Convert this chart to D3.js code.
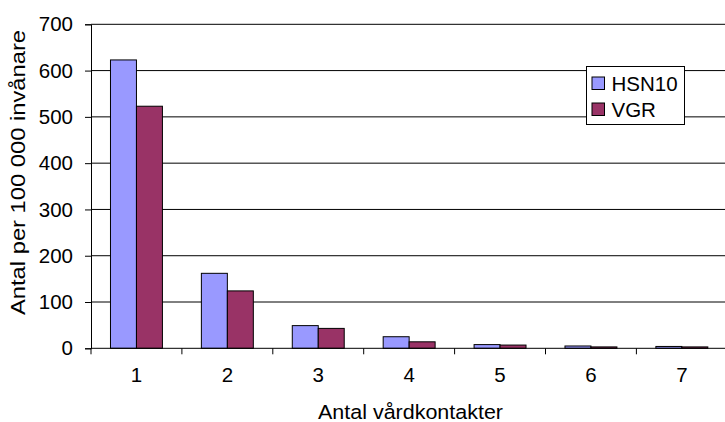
<!DOCTYPE html>
<html>
<head>
<meta charset="utf-8">
<script src="https://cdn.jsdelivr.net/npm/d3@7"></script>
<style>
  html, body { margin: 0; padding: 0; background: #fff; }
  svg { display: block; font-family: Arial, "Liberation Sans", sans-serif; }
</style>
</head>
<body>
<svg id="chart" width="725" height="422"></svg>
<script>
const categories = ["1", "2", "3", "4", "5", "6", "7"];
const seriesNames = ["HSN10", "VGR"];
const hsn10 = [623, 162, 49, 25, 8, 5, 4];
const vgr = [523, 124, 43, 14, 7, 3, 3];
const yTicks = [0, 100, 200, 300, 400, 500, 600, 700];
const colors = ["#9999FF", "#993366"];
const xTitle = "Antal vårdkontakter";
const yTitle = "Antal per 100 000 invånare";

const values = [hsn10, vgr];
const rows = categories.map((c, i) => ({cat: c, vals: seriesNames.map((s, j) => ({series: s, value: values[j][i], idx: j}))}));

const svg = d3.select("#chart");
const left = 91, step = 90.9;
const x = d3.scaleBand().domain(categories).range([left, left + step * categories.length]).padding(0);
const x1 = d3.scaleBand().domain(seriesNames).range([0, x.bandwidth()]).paddingInner(0).paddingOuter(0.75);
const y = d3.scaleLinear().domain([0, 700]).range([348.3, 24.3]);
const FS = 20.5;

// gridlines
svg.append("g").selectAll("line").data(yTicks.filter(t => t > 0)).join("line")
  .attr("x1", left).attr("x2", 725)
  .attr("y1", d => y(d)).attr("y2", d => y(d))
  .attr("stroke", "#000").attr("stroke-width", 1);

// bars
const g = svg.append("g").selectAll("g").data(rows).join("g")
  .attr("transform", d => `translate(${x(d.cat)},0)`);
g.selectAll("rect").data(d => d.vals).join("rect")
  .attr("x", d => x1(d.series))
  .attr("width", x1.bandwidth())
  .attr("y", d => y(d.value))
  .attr("height", d => y(0) - y(d.value))
  .attr("fill", d => colors[d.idx])
  .attr("stroke", "#000").attr("stroke-width", 1);

// y axis
const yAxis = d3.axisLeft(y).tickValues(yTicks).tickSize(6).tickPadding(12).tickFormat(d3.format("d"));
const ya = svg.append("g").attr("transform", `translate(${left},0)`).call(yAxis);
ya.select(".domain").attr("stroke", "#000");
ya.selectAll(".tick line").attr("stroke", "#000");
ya.selectAll("text").attr("font-size", FS).attr("fill", "#000").attr("font-family", "Arial, 'Liberation Sans', sans-serif");

// x axis
const xAxis = d3.axisBottom(x).tickSize(0).tickPadding(26);
const xa = svg.append("g").attr("transform", `translate(0,${y(0)})`).call(xAxis);
xa.select(".domain").remove();
xa.append("line").attr("x1", left).attr("x2", 725).attr("y1", 0).attr("y2", 0).attr("stroke", "#000");
xa.selectAll(".tick text").attr("font-size", FS).attr("fill", "#000").attr("dy", "0.4em").attr("font-family", "Arial, 'Liberation Sans', sans-serif");
// category boundary ticks
const boundaries = categories.map(c => x(c)).concat([x(categories[categories.length - 1]) + x.step()]);
xa.append("g").selectAll("line").data(boundaries).join("line")
  .attr("x1", d => d).attr("x2", d => d).attr("y1", 0).attr("y2", 6)
  .attr("stroke", "#000");

// axis titles
svg.append("text").attr("x", 318).attr("y", 419)
  .attr("font-size", FS).attr("textLength", 185).attr("lengthAdjust", "spacingAndGlyphs")
  .text(xTitle);
svg.append("text").attr("transform", "translate(25,315) rotate(-90)")
  .attr("font-size", FS).attr("textLength", 285).attr("lengthAdjust", "spacingAndGlyphs")
  .text(yTitle);

// legend
const lg = svg.append("g").attr("transform", "translate(586.5,66.5)");
lg.append("rect").attr("width", 98).attr("height", 58).attr("fill", "#fff").attr("stroke", "#000").attr("stroke-width", 1);
const li = lg.selectAll("g.item").data(seriesNames).join("g").attr("class", "item")
  .attr("transform", (d, i) => `translate(5.5,${10.5 + i * 26})`);
li.append("rect").attr("width", 12.5).attr("height", 12.5)
  .attr("fill", (d, i) => colors[i]).attr("stroke", "#000").attr("stroke-width", 1);
li.append("text").attr("x", 19.5).attr("y", 13.8).attr("font-size", FS).text(d => d);
</script>
</body>
</html>
